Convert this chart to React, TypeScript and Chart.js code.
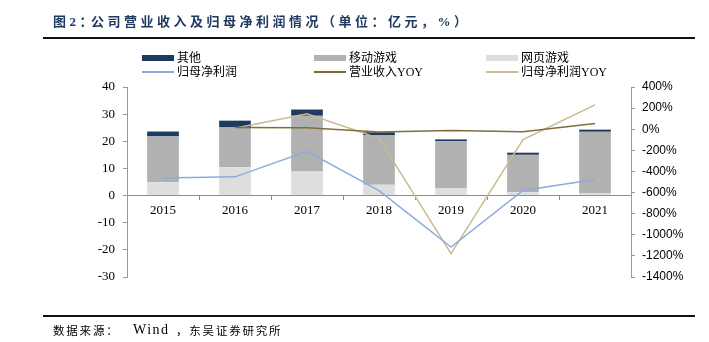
import React, { useEffect, useRef } from "react";
import { Chart, registerables } from "chart.js";
Chart.register(...registerables);

const categories = ["2015", "2016", "2017", "2018", "2019", "2020", "2021"];
const webGame = [4.9, 10.4, 8.9, 4.0, 2.7, 1.2, 0.9];
const mobileGame = [16.9, 14.7, 20.5, 18.3, 17.3, 13.8, 22.6];
const others = [1.8, 2.5, 2.3, 1.0, 0.7, 0.8, 0.8];
const netProfit = [6.5, 6.9, 16.3, 1.8, -19.0, 1.9, 5.9];
const revenueYoY = [null, 17, 15, -26, -11, -24, 54];
const netProfitYoY = [null, 10, 146, -87, -1178, -99, 230];

const leftTicks = { min: -30, max: 40, step: 10 };
const rightTicks = { min: -1400, max: 400, step: 200 };

const titleHead = "图2：";
const titleBody = "公司营业收入及归母净利润情况（单位：亿元，%）";
const sourceHead = "数据来源：";
const sourceWind = "Wind";
const sourceTail = "，东吴证券研究所";

const serif = '"Liberation Serif", "Times New Roman", "Noto Sans CJK SC", serif';
const sans = '"Liberation Sans", Arial, "Noto Sans CJK SC", sans-serif';

const C_OTHER = "#1d3a62";
const C_MOBILE = "#b1b1b1";
const C_WEB = "#dedede";
const C_NP = "#8eaae0";
const C_REV = "#7d6e3c";
const C_NPY = "#c8bb8e";

const legendItems = [
  { label: "其他", color: C_OTHER, kind: "box", col: 0, row: 0 },
  { label: "移动游戏", color: C_MOBILE, kind: "box", col: 1, row: 0 },
  { label: "网页游戏", color: C_WEB, kind: "box", col: 2, row: 0 },
  { label: "归母净利润", color: C_NP, kind: "line", col: 0, row: 1 },
  { label: "营业收入YOY", color: C_REV, kind: "line", col: 1, row: 1 },
  { label: "归母净利润YOY", color: C_NPY, kind: "line", col: 2, row: 1 },
];
const colX = [142, 314, 486];
const rowY = [58, 72];

export default function App() {
  const ref = useRef<HTMLCanvasElement>(null);
  useEffect(() => {
    if (!ref.current) return;
    const chart = new Chart(ref.current, {
      type: "bar",
      data: {
        labels: categories,
        datasets: [
          {
            type: "line",
            label: "归母净利润",
            data: netProfit,
            yAxisID: "y",
            stack: "np",
            borderColor: C_NP,
            borderWidth: 1.5,
            pointRadius: 0,
            tension: 0,
            order: 1,
          } as any,
          {
            type: "line",
            label: "营业收入YOY",
            data: revenueYoY,
            yAxisID: "y1",
            borderColor: C_REV,
            borderWidth: 1.5,
            pointRadius: 0,
            tension: 0,
            order: 1,
          },
          {
            type: "line",
            label: "归母净利润YOY",
            data: netProfitYoY,
            yAxisID: "y1",
            borderColor: C_NPY,
            borderWidth: 1.5,
            pointRadius: 0,
            tension: 0,
            order: 1,
          },
          {
            type: "bar",
            label: "网页游戏",
            data: webGame,
            yAxisID: "y",
            stack: "bars",
            backgroundColor: C_WEB,
            categoryPercentage: 1,
            barPercentage: 0.44,
            order: 2,
          },
          {
            type: "bar",
            label: "移动游戏",
            data: mobileGame,
            yAxisID: "y",
            stack: "bars",
            backgroundColor: C_MOBILE,
            categoryPercentage: 1,
            barPercentage: 0.44,
            order: 2,
          },
          {
            type: "bar",
            label: "其他",
            data: others,
            yAxisID: "y",
            stack: "bars",
            backgroundColor: C_OTHER,
            categoryPercentage: 1,
            barPercentage: 0.44,
            order: 2,
          },
        ],
      },
      options: {
        animation: false,
        responsive: false,
        maintainAspectRatio: false,
        layout: { padding: { left: 0, right: 0, top: 87, bottom: 65 } },
        plugins: { legend: { display: false }, tooltip: { enabled: false } },
        scales: {
          x: {
            position: { y: 0 } as any,
            grid: { offset: true, drawOnChartArea: false, tickLength: 4, color: "#8c8c8c" },
            border: { color: "#8c8c8c", width: 1 },
            ticks: { color: "#000", font: { family: serif, size: 13 }, padding: 3 },
            afterFit: (s: any) => {
              s.height = 0;
            },
          },
          y: {
            position: "left",
            stacked: true,
            min: leftTicks.min,
            max: leftTicks.max,
            ticks: {
              stepSize: leftTicks.step,
              color: "#000",
              font: { family: serif, size: 13 },
              padding: 8,
            },
            grid: { drawOnChartArea: false, tickLength: 4, color: "#9a9a9a" },
            border: { color: "#9a9a9a", width: 1 },
            afterFit: (s: any) => {
              s.width = 127;
            },
          },
          y1: {
            position: "right",
            min: rightTicks.min,
            max: rightTicks.max,
            ticks: {
              stepSize: rightTicks.step,
              color: "#000",
              font: { family: sans, size: 12 },
              padding: 7,
              callback: (v: any) => `${v}%`,
            },
            grid: { drawOnChartArea: false, tickLength: 4, color: "#9a9a9a" },
            border: { color: "#9a9a9a", width: 1 },
            afterFit: (s: any) => {
              s.width = 78;
            },
          },
        },
      },
    });
    return () => chart.destroy();
  }, []);

  const titleStyle: React.CSSProperties = {
    position: "absolute",
    top: 13,
    fontFamily: serif,
    fontWeight: "bold",
    fontSize: 13,
    lineHeight: "18px",
    letterSpacing: "3.5px",
    color: "#1f3a60",
    whiteSpace: "nowrap",
  };
  const srcStyle: React.CSSProperties = {
    position: "absolute",
    top: 322,
    fontFamily: serif,
    fontSize: 11.5,
    lineHeight: "18px",
    letterSpacing: "1.8px",
    color: "#000",
    whiteSpace: "nowrap",
  };

  return (
    <div
      style={{
        position: "fixed",
        left: 0,
        top: 0,
        width: 709,
        height: 342,
        background: "#fff",
        overflow: "hidden",
      }}
    >
      <canvas
        ref={ref}
        width={709}
        height={342}
        style={{ position: "absolute", left: 0, top: 0, width: 709, height: 342, display: "block" }}
      />
      <div style={{ ...titleStyle, left: 53 }}>{titleHead}</div>
      <div style={{ ...titleStyle, left: 91 }}>{titleBody}</div>
      <div style={{ position: "absolute", left: 43, top: 37, width: 652, height: 2, background: "#111" }} />
      {legendItems.map((it) => (
        <div key={it.label}>
          {it.kind === "box" ? (
            <div
              style={{
                position: "absolute",
                left: colX[it.col],
                top: rowY[it.row] - 3,
                width: 32,
                height: 6,
                background: it.color,
              }}
            />
          ) : (
            <div
              style={{
                position: "absolute",
                left: colX[it.col],
                top: rowY[it.row] - 0.75,
                width: 32,
                height: 1.5,
                background: it.color,
              }}
            />
          )}
          <div
            style={{
              position: "absolute",
              left: colX[it.col] + 35,
              top: rowY[it.row] - 8,
              fontFamily: serif,
              fontSize: 12,
              lineHeight: "16px",
              color: "#000",
              whiteSpace: "nowrap",
            }}
          >
            {it.label}
          </div>
        </div>
      ))}
      <div style={{ position: "absolute", left: 43, top: 315, width: 652, height: 2, background: "#111" }} />
      <div style={{ ...srcStyle, left: 53 }}>{sourceHead}</div>
      <div style={{ ...srcStyle, left: 133, fontSize: 14, letterSpacing: "1.5px", top: 321 }}>{sourceWind}</div>
      <div style={{ ...srcStyle, left: 176 }}>{sourceTail}</div>
    </div>
  );
}
